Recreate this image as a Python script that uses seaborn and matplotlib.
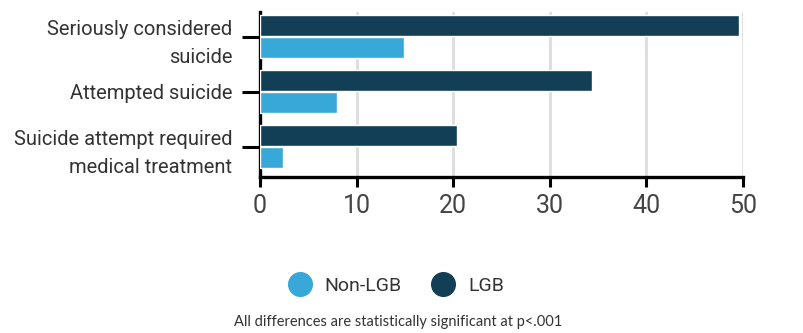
import matplotlib
matplotlib.use("Agg")
import matplotlib.pyplot as plt
from matplotlib.lines import Line2D
import seaborn as sns
import pandas as pd

categories = ["Seriously considered\nsuicide", "Attempted suicide",
              "Suicide attempt required\nmedical treatment"]
lgb = [49.6, 34.4, 20.4]
non_lgb = [14.9, 8.0, 2.4]
groups = ["LGB", "Non-LGB"]
colors = {"LGB": "#123f55", "Non-LGB": "#37a8d8"}
xticks = [0, 10, 20, 30, 40, 50]

df = pd.DataFrame({
    "category": categories * 2,
    "value": lgb + non_lgb,
    "group": ["LGB"] * 3 + ["Non-LGB"] * 3,
})

sns.set_style("white")
plt.rcParams["font.family"] = ["Roboto", "DejaVu Sans"]

fig = plt.figure(figsize=(8.04, 3.33), dpi=100)
ax = fig.add_axes([260 / 804, 1 - 177 / 333, 483 / 804, 165 / 333])
sns.barplot(data=df, y="category", x="value", hue="group", hue_order=groups,
            palette=colors, orient="h", width=0.8, gap=0.05, ax=ax,
            legend=False, saturation=1, zorder=3)

ax.set_xlim(0, 50)
ax.set_ylim(2.55, -0.45)
ax.set_xticks(xticks)
ax.set_xticklabels([str(t) for t in xticks])
ax.set_xlabel("")
ax.set_ylabel("")
ax.grid(axis="x", color="#dddddd", linewidth=2, zorder=0)
ax.set_axisbelow(True)
for s in ["top", "right"]:
    ax.spines[s].set_visible(False)
for s in ["left", "bottom"]:
    ax.spines[s].set_linewidth(2.4)
    ax.spines[s].set_color("black")
ax.tick_params(axis="y", length=13, width=2.2, color="black", pad=7,
               labelsize=14.5, labelcolor="#333333", direction="out", left=True)
ax.tick_params(axis="x", length=7, width=2.2, color="black", pad=5,
               labelsize=18, labelcolor="#444444", direction="out", bottom=True)
for lab in ax.get_yticklabels():
    lab.set_horizontalalignment("right")
    lab.set_multialignment("right")
    lab.set_linespacing(1.6)

handles = [Line2D([], [], marker="o", linestyle="", markersize=17,
                  markerfacecolor=colors[g], markeredgecolor=colors[g], label=g)
           for g in ["Non-LGB", "LGB"]]
fig.legend(handles=handles, loc="center", bbox_to_anchor=(392 / 804, 1 - 286 / 333),
           ncol=2, frameon=False, fontsize=14, handletextpad=0.3, columnspacing=1.1,
           labelcolor="#333333")

fig.text(398 / 804, 1 - 322 / 333, "All differences are statistically significant at p<.001",
         ha="center", va="center", fontsize=10.5, color="#333333",
         family=["Lato", "DejaVu Sans"])

fig.savefig("out.png", dpi=100)
